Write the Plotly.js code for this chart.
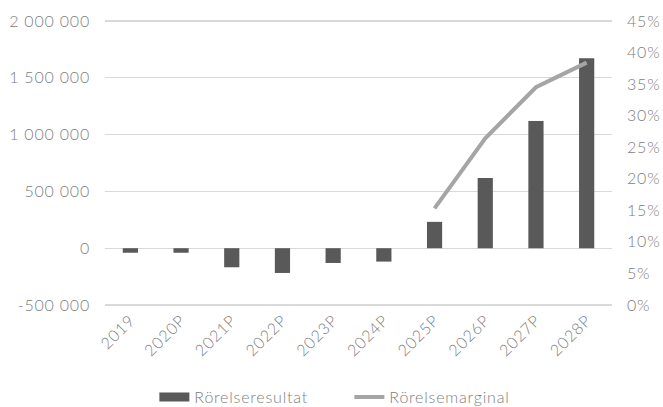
<!DOCTYPE html>
<html>
<head>
<meta charset="utf-8">
<script src="https://cdn.plot.ly/plotly-3.0.1.min.js"></script>
<style>html,body{margin:0;padding:0;background:#fff;}#chart{width:663px;height:407px;} svg text{letter-spacing:0.8px;}</style>
</head>
<body>
<div id="chart"></div>
<script>
const categories = ["2019","2020P","2021P","2022P","2023P","2024P","2025P","2026P","2027P","2028P"];
const rorelseresultat = [-40000, -40000, -168000, -218000, -130000, -118000, 232000, 617000, 1120000, 1673000];
const rorelsemarginal = [null, null, null, null, null, null, 0.153, 0.264, 0.345, 0.384];
const leftTickVals = [-500000, 0, 500000, 1000000, 1500000, 2000000];
const leftTickText = ["-500 000", "0", "500 000", "1 000 000", "1 500 000", "2 000 000"];
const rightTickVals = [0, 0.05, 0.10, 0.15, 0.20, 0.25, 0.30, 0.35, 0.40, 0.45];
const rightTickText = ["0%", "5%", "10%", "15%", "20%", "25%", "30%", "35%", "40%", "45%"];

const fontFam = 'Lato, "Open Sans", sans-serif';
const txtColor = '#808080';
const fs = 16;
const fnt = {family: fontFam, size: fs, color: txtColor, weight: 300};

const traces = [
  {
    type: 'bar', name: 'Rörelseresultat', x: categories, y: rorelseresultat,
    marker: {color: '#595959'}, yaxis: 'y', showlegend: false
  },
  {
    type: 'scatter', mode: 'lines', name: 'Rörelseresultat', x: [null], y: [null],
    line: {color: '#595959', width: 9}, yaxis: 'y', hoverinfo: 'skip'
  },
  {
    type: 'scatter', mode: 'lines', name: 'Rörelsemarginal', x: categories, y: rorelsemarginal,
    line: {color: '#a5a5a5', width: 4}, yaxis: 'y2', connectgaps: false
  }
];

const layout = {
  width: 663, height: 407,
  margin: {l: 105, r: 51, t: 19, b: 100, autoexpand: false},
  paper_bgcolor: '#fff', plot_bgcolor: '#fff',
  font: fnt,
  bargap: 0.7,
  showlegend: true,
  legend: {orientation: 'h', x: 0.482, xanchor: 'center', y: -0.3715, yanchor: 'bottom',
           font: fnt, traceorder: 'normal', entrywidth: 150, entrywidthmode: 'pixels'},
  xaxis: {
    type: 'category', tickangle: -45, showgrid: false, zeroline: false, showline: false,
    automargin: false, ticks: '', tickfont: fnt
  },
  yaxis: {
    range: [-517606, 2017606], tickvals: leftTickVals, ticktext: leftTickText, automargin: false,
    showgrid: true, gridcolor: '#d9d9d9', gridwidth: 1.3,
    zeroline: true, zerolinecolor: '#d9d9d9', zerolinewidth: 1.3, showline: false,
    ticks: '', ticklabelstandoff: 14, tickfont: fnt
  },
  yaxis2: {
    overlaying: 'y', side: 'right', range: [-0.003169, 0.453169], automargin: false,
    tickvals: rightTickVals, ticktext: rightTickText,
    showgrid: false, zeroline: false, showline: false, ticks: '', ticklabelstandoff: 14,
    tickfont: fnt
  }
};

Plotly.newPlot('chart', traces, layout, {staticPlot: true, displayModeBar: false});
</script>
</body>
</html>
